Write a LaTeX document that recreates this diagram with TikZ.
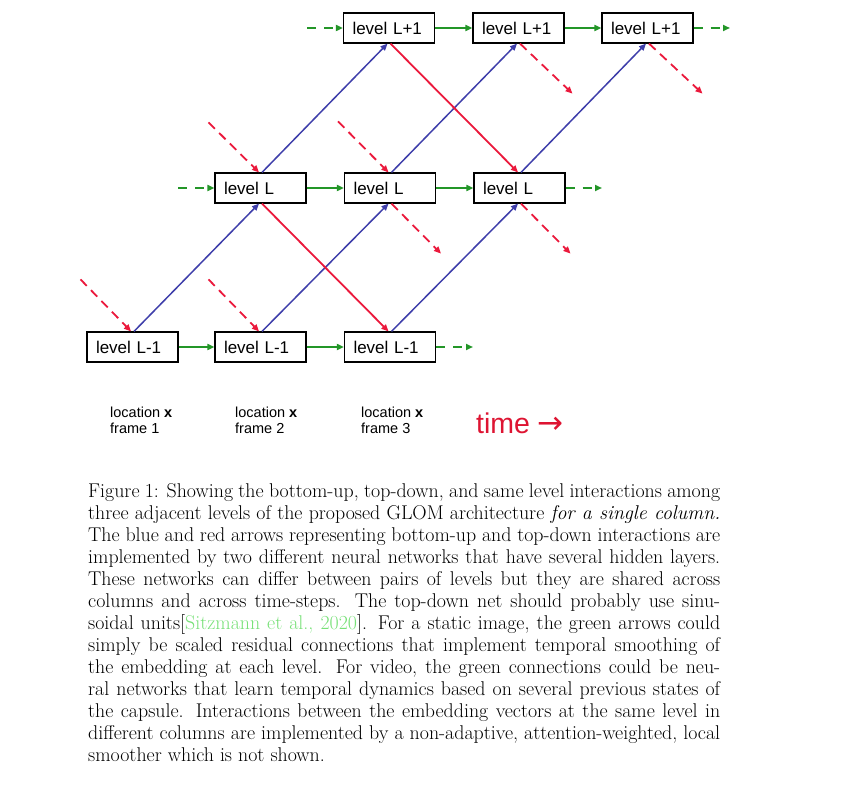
\documentclass[tikz,border=0pt]{standalone}
\usepackage{fontspec}
\newfontfamily\arial{Liberation Sans}
\newfontfamily\dejavu{DejaVu Sans}
\usetikzlibrary{arrows.meta,calc}
\definecolor{bluearr}{RGB}{62,62,170}
\definecolor{redarr}{RGB}{235,25,60}
\definecolor{greenarr}{RGB}{35,150,40}
\definecolor{citegreen}{RGB}{120,225,120}
\definecolor{timered}{RGB}{222,20,50}
\begin{document}
\begin{tikzpicture}[x=1pt,y=-1pt,
  lvlbox/.style={draw=black, line width=1.2pt, minimum height=30pt, text width=73pt,
    inner xsep=9pt, inner ysep=0pt, align=left, font=\arial\fontsize{17}{20}\selectfont},
  arrtip/.style={-{Triangle[length=7pt,width=6pt]}},
  uparr/.style={arrtip, draw=bluearr, line width=1.5pt},
  downarr/.style={arrtip, draw=redarr, line width=1.8pt},
  downdash/.style={downarr, dash pattern=on 9pt off 6pt},
  samearr/.style={arrtip, draw=greenarr, line width=1.9pt},
  samedash/.style={samearr, dash pattern=on 9pt off 8pt},
  locbox/.style={anchor=west, inner sep=0pt, align=left, font=\arial\fontsize{14.5}{16}\selectfont},
  captext/.style={anchor=base west, inner sep=0pt, text width=632pt, align=justify,
    font=\fontsize{19.9}{22.05}\selectfont}
]
\fill[white] (0,0) rectangle (851,786);
\useasboundingbox (0,0) rectangle (851,786);

% level boxes
\node[lvlbox] (b0) at (132.5,347) {level L-1};
\node[lvlbox] (b1) at (260.5,347) {level L-1};
\node[lvlbox] (b2) at (390,347) {level L-1};
\node[lvlbox] (m1) at (260.5,188) {level L};
\node[lvlbox] (m2) at (390,188) {level L};
\node[lvlbox] (m3) at (519.5,188) {level L};
\node[lvlbox] (t2) at (389,28) {level L+1};
\node[lvlbox] (t3) at (518.5,28) {level L+1};
\node[lvlbox] (t4) at (647.5,28) {level L+1};

% free ends
\coordinate (rb0) at ($(b0.north)+(-52,-52)$);
\coordinate (rb1) at ($(b1.north)+(-52,-52)$);
\coordinate (rm1) at ($(m1.north)+(-52,-50)$);
\coordinate (rm2) at ($(m2.north)+(-52,-51)$);
\coordinate (om2) at ($(m2.south)+(51,50)$);
\coordinate (om3) at ($(m3.south)+(51,50)$);
\coordinate (ot3) at ($(t3.south)+(54,50)$);
\coordinate (ot4) at ($(t4.south)+(55,50)$);
\coordinate (gt) at (307,28);
\coordinate (gm) at (178,188);
\coordinate (gob) at (473,347);
\coordinate (gom) at (602,188);
\coordinate (got) at (730,28);

% bottom-up (blue)
\draw[uparr] ($(b0.north)+(1.5,0)$) -- ($(m1.south)+(-1.5,0)$);
\draw[uparr] ($(b1.north)+(1.5,0)$) -- ($(m2.south)+(-1.5,0)$);
\draw[uparr] ($(b2.north)+(1.5,0)$) -- ($(m3.south)+(-1.5,0)$);
\draw[uparr] ($(m1.north)+(1.5,0)$) -- ($(t2.south)+(-1.5,0)$);
\draw[uparr] ($(m2.north)+(1.5,0)$) -- ($(t3.south)+(-1.5,0)$);
\draw[uparr] ($(m3.north)+(1.5,0)$) -- ($(t4.south)+(-1.5,0)$);

% top-down (red)
\draw[downarr] ($(t2.south)+(1.5,0)$) -- ($(m3.north)+(-1.5,0)$);
\draw[downarr] ($(m1.south)+(1.5,0)$) -- ($(b2.north)+(-1.5,0)$);
\draw[downdash] (rb0) -- ($(b0.north)+(-1.5,0)$);
\draw[downdash] (rb1) -- ($(b1.north)+(-1.5,0)$);
\draw[downdash] (rm1) -- ($(m1.north)+(-1.5,0)$);
\draw[downdash] (rm2) -- ($(m2.north)+(-1.5,0)$);
\draw[downdash] ($(m2.south)+(1.5,0)$) -- (om2);
\draw[downdash] ($(m3.south)+(1.5,0)$) -- (om3);
\draw[downdash] ($(t3.south)+(1.5,0)$) -- (ot3);
\draw[downdash] ($(t4.south)+(1.5,0)$) -- (ot4);

% same level (green)
\draw[samearr] (b0) -- (b1);
\draw[samearr] (b1) -- (b2);
\draw[samearr] (m1) -- (m2);
\draw[samearr] (m2) -- (m3);
\draw[samearr] (t2) -- (t3);
\draw[samearr] (t3) -- (t4);
\draw[samedash] (gt) -- (t2);
\draw[samedash] (gm) -- (m1);
\draw[samedash] (b2) -- (gob);
\draw[samedash] (m3) -- (gom);
\draw[samedash] (t4) -- (got);

% labels
\node[locbox] (l1) at (110,420.5) {location \textbf{x}\\frame 1};
\node[locbox] (l2) at (235,420.5) {location \textbf{x}\\frame 2};
\node[locbox] (l3) at (361,420.5) {location \textbf{x}\\frame 3};
\node[anchor=base west, inner sep=0pt, text=timered, font=\arial\fontsize{28.5}{30}\selectfont] (time) at (476,433) {time {\dejavu\fontsize{31}{31}\selectfont →}};

% caption
\node[captext] (caption) at (88,497) {Figure 1: Showing the bottom-up, top-down, and same level interactions among\linebreak
three adjacent levels of the proposed GLOM architecture \textit{for a single column.}\linebreak
The blue and red arrows representing bottom-up and top-down interactions are\linebreak
implemented by two different neural networks that have several hidden layers.\linebreak
These networks can differ between pairs of levels but they are shared across\linebreak
columns and across time-steps.  The top-down net should probably use sinu-\linebreak
soidal units[{\color{citegreen}Sitzmann et al., 2020}]. For a static image, the green arrows could\linebreak
simply be scaled residual connections that implement temporal smoothing of\linebreak
the embedding at each level. For video, the green connections could be neu-\linebreak
ral networks that learn temporal dynamics based on several previous states of\linebreak
the capsule. Interactions between the embedding vectors at the same level in\linebreak
different columns are implemented by a non-adaptive, attention-weighted, local\linebreak
smoother which is not shown.};
\end{tikzpicture}
\end{document}
